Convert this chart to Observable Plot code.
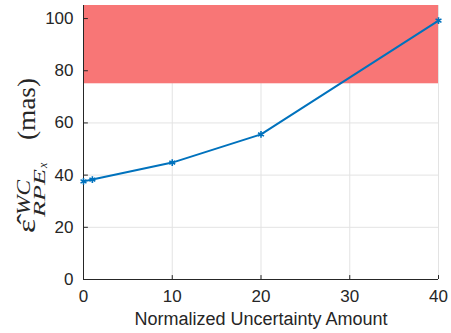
<!DOCTYPE html>
<html><head><meta charset="utf-8">
<script src="https://cdn.jsdelivr.net/npm/d3@7"></script>
<script src="https://cdn.jsdelivr.net/npm/@observablehq/plot@0.6"></script>
<style>body{margin:0;background:#fff}</style>
</head><body><div id="chart"></div>
<script>
const uncertainty = [0, 1, 10, 20, 40];
const errorMas = [37.6, 38.3, 44.8, 55.6, 99.2];
const xTicks = [0, 10, 20, 30, 40];
const yTicks = [0, 20, 40, 60, 80, 100];
const xLabel = "Normalized Uncertainty Amount";
const regionLow = 75, regionHigh = 105;
const data = uncertainty.map((x, i) => ({x, y: errorMas[i]}));
const axisColor = "#262626";
const chart = Plot.plot({
  width: 451, height: 333,
  marginLeft: 83, marginRight: 13, marginTop: 5, marginBottom: 54,
  style: {fontFamily: "'Liberation Sans', Arial, sans-serif", color: axisColor, background: "#fff"},
  x: {domain: [0, 40], ticks: xTicks},
  y: {domain: [0, 105], ticks: yTicks},
  marks: [
    Plot.gridX(xTicks, {stroke: "#e3e3e3", strokeOpacity: 1, strokeWidth: 1}),
    Plot.gridY(yTicks, {stroke: "#e3e3e3", strokeOpacity: 1, strokeWidth: 1}),
    Plot.rect([{y1: regionLow, y2: regionHigh}], {x1: 0, x2: 40, y1: "y1", y2: "y2", fill: "#f87676"}),
    Plot.ruleY([0], {stroke: axisColor, strokeWidth: 1}),
    Plot.ruleX([0], {stroke: axisColor, strokeWidth: 1}),
    Plot.ruleX(xTicks, {y1: 0, y2: 1.5, stroke: axisColor}),
    Plot.ruleY(yTicks, {x1: 0, x2: 0.55, stroke: axisColor}),
    Plot.line(data, {x: "x", y: "y", stroke: "#0072BD", strokeWidth: 2}),
    Plot.dot(data, {x: "x", y: "y", symbol: "asterisk", r: 3.2, stroke: "#0072BD", strokeWidth: 1.6}),
    Plot.axisX(xTicks, {tickSize: 0, tickPadding: 10, fontSize: 17, label: null}),
    Plot.axisY(yTicks, {tickSize: 0, tickPadding: 10, fontSize: 17, label: null}),
    Plot.text([xLabel], {frameAnchor: "bottom", dy: 45, fontSize: 18, fill: axisColor})
  ]
});
document.getElementById("chart").appendChild(chart);
// y-axis label with math notation: ε̂^{WC}_{RPE_x} (mas)
const svg = d3.select(chart);
const serif = "'Liberation Serif', 'DejaVu Serif', serif";
function piece(str, x, y, size, italic, len) {
  const el = svg.append("text")
    .attr("transform", `translate(${x},${y}) rotate(-90)`)
    .attr("text-anchor", "start")
    .attr("font-family", serif)
    .attr("font-size", size)
    .attr("fill", axisColor)
    .attr("font-style", italic ? "italic" : "normal")
    .text(str);
  if (len) el.attr("textLength", len).attr("lengthAdjust", "spacingAndGlyphs");
}
piece("ε\u0302", 35, 233, 26, false, 14);
piece("WC", 30, 215, 19, true, 35);
piece("RPE", 45, 217, 17, true, 48);
piece("x", 47, 168, 12, true, null);
piece("(mas)", 35, 140, 26, false, 62);
</script>
</body></html>
